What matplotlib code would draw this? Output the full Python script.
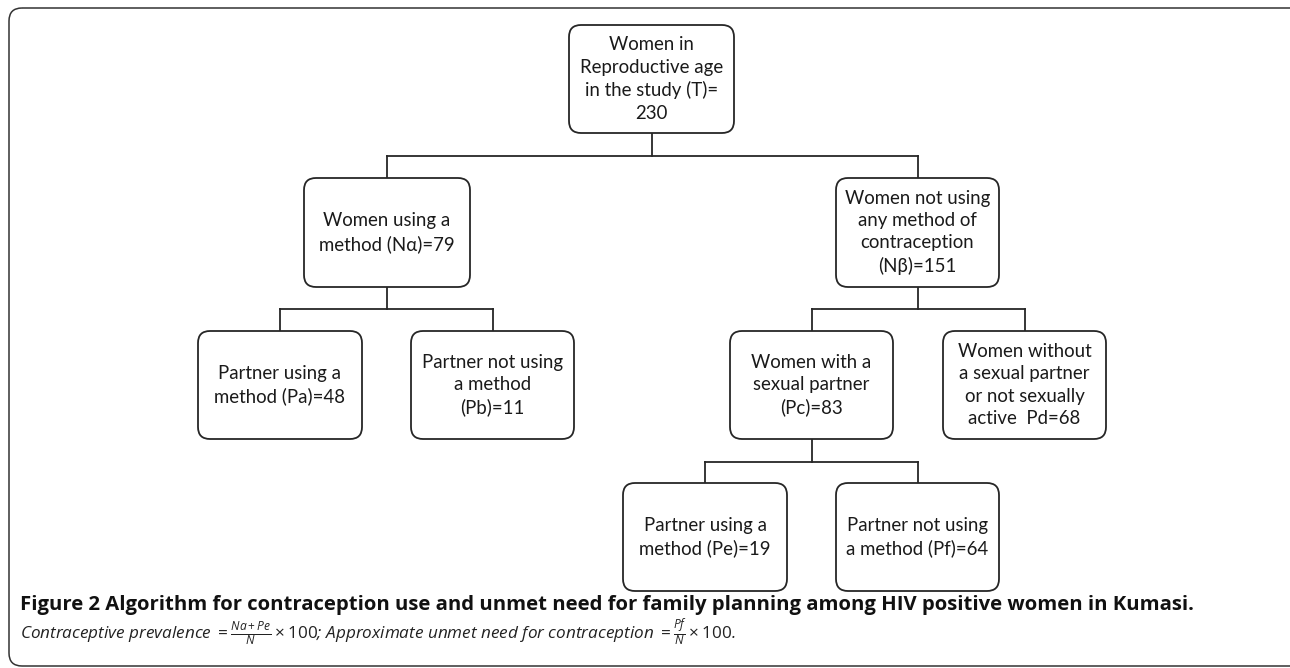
import matplotlib
matplotlib.use("Agg")
import matplotlib.pyplot as plt
from matplotlib.patches import FancyBboxPatch

# node data
names = ["T", "Na", "Nb", "Pa", "Pb", "Pc", "Pd", "Pe", "Pf"]
counts = [230, 79, 151, 48, 11, 83, 68, 19, 64]
texts = [
    "Women in\nReproductive age\nin the study (T)=\n{}",
    "Women using a\nmethod (N\u03b1)={}",
    "Women not using\nany method of\ncontraception\n(N\u03b2)={}",
    "Partner using a\nmethod (Pa)={}",
    "Partner not using\na method\n(Pb)={}",
    "Women with a\nsexual partner\n(Pc)={}",
    "Women without\na sexual partner\nor not sexually\nactive  Pd={}",
    "Partner using a\nmethod (Pe)={}",
    "Partner not using\na method (Pf)={}",
]
# parent -> children
tree = {"T": ["Na", "Nb"], "Na": ["Pa", "Pb"], "Nb": ["Pc", "Pd"], "Pc": ["Pe", "Pf"]}

caption_bold = "Figure 2 Algorithm for contraception use and unmet need for family planning among HIV positive women in Kumasi."

# layout in pixels (x left, x right, y top, y bottom), y grows downward
boxes = {
    "T": (569, 734, 25, 133),
    "Na": (304, 470, 178, 287),
    "Nb": (836, 999, 178, 287),
    "Pa": (198, 362, 331, 439),
    "Pb": (411, 574, 331, 439),
    "Pc": (730, 893, 331, 439),
    "Pd": (943, 1106, 331, 439),
    "Pe": (623, 787, 483, 591),
    "Pf": (836, 999, 483, 591),
}
bar_y = {"T": 156, "Na": 309, "Nb": 309, "Pc": 462}

plt.rcParams["mathtext.fontset"] = "custom"
plt.rcParams["mathtext.rm"] = "Open Sans"
plt.rcParams["mathtext.it"] = "Open Sans:italic"

fig = plt.figure(figsize=(12.9, 6.68), dpi=100)
ax = fig.add_axes([0, 0, 1, 1])
ax.set_xlim(0, 1290)
ax.set_ylim(668, 0)
ax.axis("off")

lc = "#262626"
lw = 1.3

# outer frame
frame = FancyBboxPatch((9, 8), 1320, 658, boxstyle="round,pad=0,rounding_size=13",
                       fc="none", ec="#333333", lw=1.1, clip_on=True)
ax.add_patch(frame)

for name, cnt, txt in zip(names, counts, texts):
    x0, x1, y0, y1 = boxes[name]
    ax.add_patch(FancyBboxPatch((x0, y0), x1 - x0, y1 - y0,
                                boxstyle="round,pad=0,rounding_size=12",
                                fc="white", ec=lc, lw=lw, zorder=3))
    ax.text((x0 + x1) / 2, (y0 + y1) / 2, txt.format(cnt), ha="center", va="center",
            fontsize=13.4, family=["Lato", "DejaVu Sans"], color="#1a1a1a",
            linespacing=1.38, zorder=4)

for parent, kids in tree.items():
    px0, px1, py0, py1 = boxes[parent]
    pcx = (px0 + px1) / 2
    yb = bar_y[parent]
    kx = [(boxes[k][0] + boxes[k][1]) / 2 for k in kids]
    ax.plot([pcx, pcx], [py1, yb], color=lc, lw=lw, zorder=2)
    ax.plot([min(kx), max(kx)], [yb, yb], color=lc, lw=lw, zorder=2, solid_capstyle="projecting")
    for k, x in zip(kids, kx):
        ax.plot([x, x], [yb, boxes[k][2]], color=lc, lw=lw, zorder=2)

ax.text(20, 605, caption_bold, ha="left", va="center", fontsize=14.6,
        fontweight="bold", family="Open Sans", color="#111111")
cap2 = (r"Contraceptive prevalence $= \frac{Na+Pe}{N} \times 100$; "
        r"Approximate unmet need for contraception $= \frac{Pf}{N} \times 100$.")
ax.text(20, 633, cap2, ha="left", va="center", fontsize=12.3,
        fontstyle="italic", family="Open Sans", color="#222222")

fig.savefig("out.png", dpi=100)
